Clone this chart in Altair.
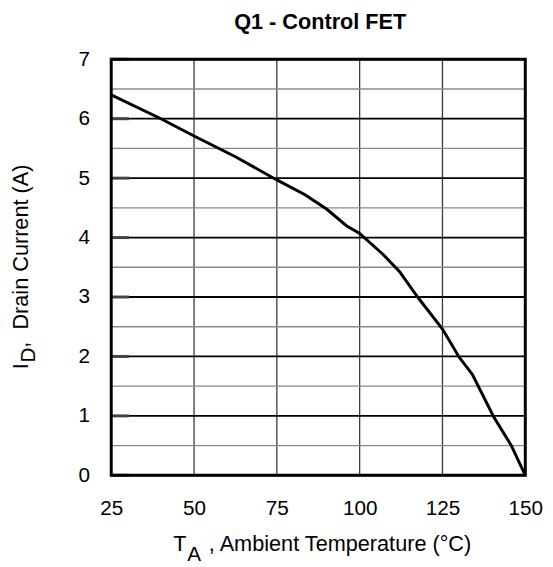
import altair as alt
import pandas as pd

# Data
temp_c = [25, 40, 50, 62.5, 75, 83.5, 90, 96, 100, 107, 112, 117.5, 125, 130, 134, 140.4, 145.8, 150]
drain_a = [6.4, 6.0, 5.71, 5.36, 4.97, 4.72, 4.48, 4.2, 4.07, 3.72, 3.43, 3.0, 2.46, 1.99, 1.7, 0.99, 0.5, 0.0]

x_ticks = [25, 50, 75, 100, 125, 150]
y_grid = [0, 0.5, 1, 1.5, 2, 2.5, 3, 3.5, 4, 4.5, 5, 5.5, 6, 6.5, 7]
y_major = [0, 1, 2, 3, 4, 5, 6, 7]

chart_title = "Q1 - Control FET"
x_title_main = "T"
x_title_sub = "A"
x_title_rest = ", Ambient Temperature (°C)"
y_title_main = "I"
y_title_sub = "D"
y_title_rest = ",\u00a0\u00a0Drain Current (A)"

FONT = "Liberation Sans"
W, H = 420, 422

df = pd.DataFrame({"T": temp_c, "I": drain_a})

x_scale = alt.Scale(domain=[25, 150], nice=False, zero=False)
y_scale = alt.Scale(domain=[0, 7], nice=False, zero=False)

x_axis = alt.Axis(
    values=x_ticks, title=None, grid=False, ticks=False, tickSize=0, domain=False,
    labelFont=FONT, labelFontSize=21, labelColor="black", labelFlush=False,
    labelBaseline="alphabetic", labelPadding=40, labelOverlap=False,
)
y_axis = alt.Axis(
    values=y_major, title=None, grid=False, ticks=False, tickSize=0, domain=False,
    format="d", labelFlush=False, labelOverlap=False,
    labelFont=FONT, labelFontSize=21, labelColor="black",
    labelPadding=22,
)

curve = alt.Chart(df).mark_line(color="black", strokeWidth=3).encode(
    x=alt.X("T:Q", scale=x_scale, axis=x_axis),
    y=alt.Y("I:Q", scale=y_scale, axis=y_axis),
)

vgrid = alt.Chart(pd.DataFrame({"v": x_ticks})).mark_rule(color="#3a3a3a", strokeWidth=1.3).encode(
    x=alt.X("v:Q", scale=x_scale, axis=x_axis)
)
hgrid = alt.Chart(pd.DataFrame({"v": y_grid})).mark_rule().encode(
    y=alt.Y("v:Q", scale=y_scale, axis=y_axis),
    color=alt.condition("datum.v % 1 === 0", alt.value("black"), alt.value("#8a8a8a")),
    strokeWidth=alt.condition("datum.v % 1 === 0", alt.value(1.8), alt.value(1.4)),
)
ticks = alt.Chart(pd.DataFrame({"v": y_major})).mark_rule(color="#444", strokeWidth=3).encode(
    y=alt.Y("v:Q", scale=y_scale, axis=y_axis), x=alt.value(0), x2=alt.value(18)
)
frame = alt.Chart(pd.DataFrame({"f": [1]})).mark_rect(
    filled=False, stroke="black", strokeWidth=3
).encode(x=alt.value(0), x2=alt.value(W), y=alt.value(0), y2=alt.value(H))


def label(text, x, y, size=21, angle=None, weight="normal", align="left"):
    kw = dict(font=FONT, fontSize=size, color="black", align=align,
              baseline="alphabetic", fontWeight=weight)
    if angle is not None:
        kw["angle"] = angle
    return alt.Chart(pd.DataFrame({"t": [text]})).mark_text(**kw).encode(
        text="t:N", x=alt.value(x), y=alt.value(y)
    )


texts = [
    label(chart_title, W / 2 + 2, -31, size=22, weight="bold", align="center"),
    label(x_title_main, 63, 498.5, size=22),
    label(x_title_sub, 77, 508.5, size=21),
    label(x_title_rest, 99, 498.5, size=22),
    label(y_title_main, -84.7, 314.5, size=22, angle=270),
    label(y_title_sub, -77.5, 307.5, size=21, angle=270),
    label(y_title_rest, -84.7, 292.5, size=22, angle=270),
]

chart = alt.layer(vgrid, hgrid, ticks, curve, frame, *texts).properties(
    width=W, height=H,
    autosize=alt.AutoSizeParams(type="none"),
    padding={"left": 104.7, "top": 48, "right": 20, "bottom": 89},
).configure_view(stroke=None).configure(background="white")

chart.save("out.html", embed_options={"renderer": "svg", "actions": False})
